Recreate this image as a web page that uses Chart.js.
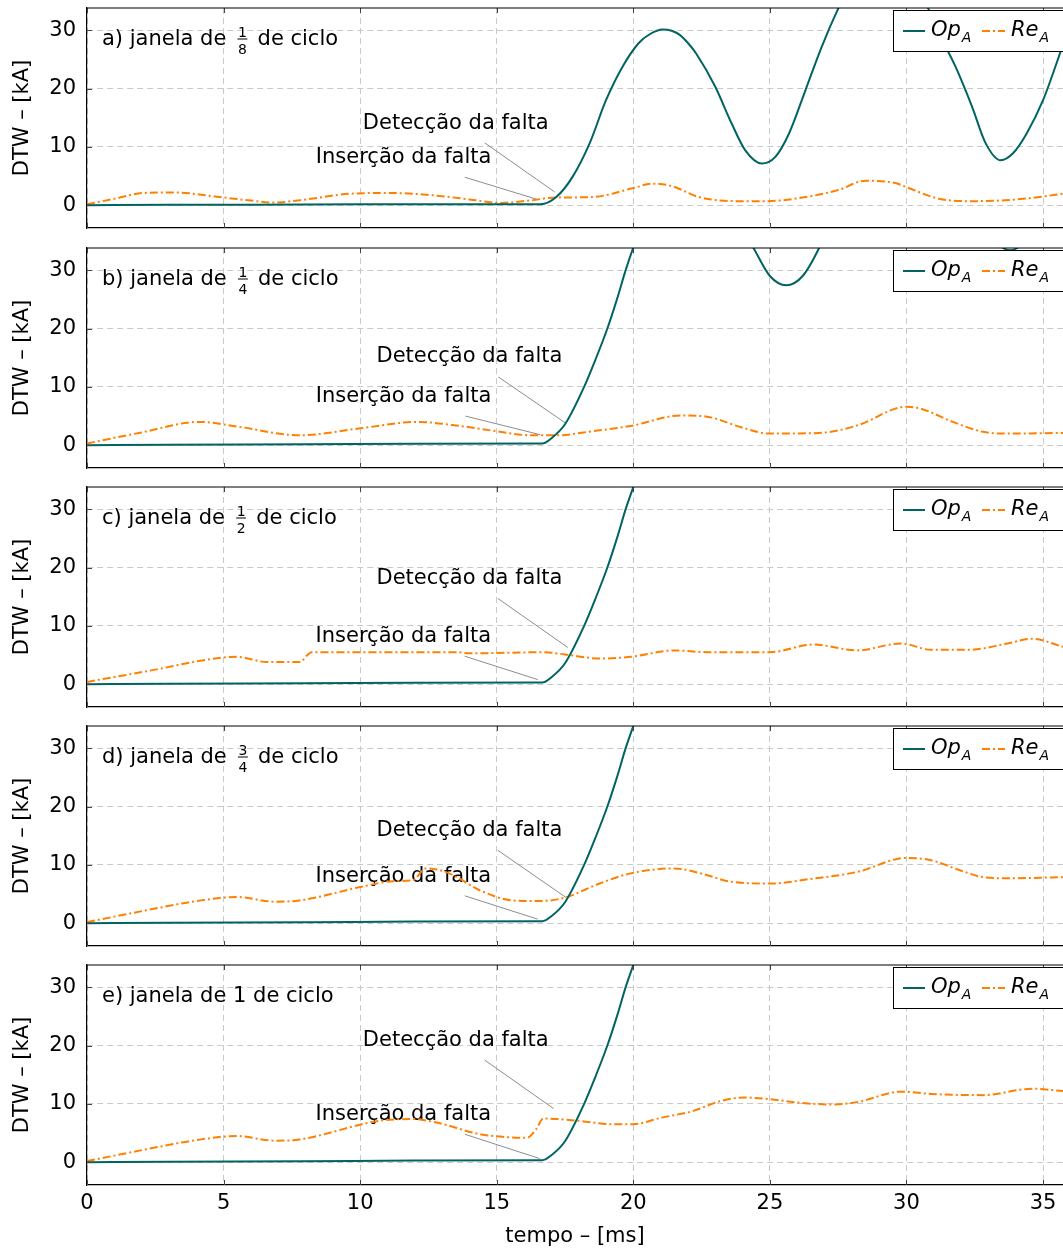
<!DOCTYPE html>
<html><head><meta charset="utf-8">
<script src="https://cdn.jsdelivr.net/npm/chart.js@4.4.0/dist/chart.umd.min.js"></script>
<style>
html,body{margin:0;padding:0;background:#fff;}
#wrap{position:relative;width:1063px;height:1249px;overflow:hidden;background:#fff;}
.pn{position:absolute;left:0;width:1063px;}
canvas{display:block;}
</style></head><body><div id="wrap"></div>
<script>
// ---- axis ticks / ranges ----
const xTicks = [0, 5, 10, 15, 20, 25, 30, 35];
const yTicks = [0, 10, 20, 30];
const xMin = 0, xMax = 35.73, yMin = -3.9, yMax = 33.8;
const xTitle = 'tempo – [ms]';
const yTitle = 'DTW – [kA]';
const seriesNames = ['Op', 'Re'];

// ---- panel a) 1/8 cycle ----
const opA_t_a = [0, 3, 6, 10, 13, 16.6, 17.18, 17.78, 18.4, 19.0, 19.6, 20.2, 20.6, 21.07, 21.4, 21.7, 22.0, 22.3, 23.0, 23.6, 24.1, 24.7, 25.2, 25.7, 26.3, 26.9, 27.5, 28.3, 29.15, 30.0, 30.8, 31.2, 31.8, 32.4, 32.9, 33.45, 33.9, 34.4, 35.0, 35.73];
const opA_v_a = [0, 0.1, 0.1, 0.15, 0.15, 0.15, 1.4, 4.9, 10.6, 18.0, 23.7, 27.8, 29.3, 30.1, 29.9, 29.2, 27.8, 26.0, 20.3, 14.0, 9.4, 7.15, 8.3, 12.3, 19.7, 27.2, 33.7, 41.0, 44.0, 41.0, 33.7, 29.4, 23.7, 16.9, 10.6, 7.7, 8.9, 12.3, 18.0, 27.5];
const reA_t_a = [0, 1, 2.06, 3.15, 4.86, 6.0, 6.8, 7.8, 9.74, 11.08, 12.67, 14.0, 15.1, 16.3, 17.05, 18.5, 19.97, 20.7, 21.4, 22.4, 23.9, 24.86, 26.3, 27.5, 28.5, 29.6, 30.0, 31.2, 32.4, 33.6, 34.86, 35.73];
const reA_v_a = [0.17, 1.1, 2.1, 2.2, 1.4, 0.8, 0.45, 0.86, 2.0, 2.1, 1.7, 1.0, 0.4, 0.86, 1.3, 1.4, 2.9, 3.7, 3.3, 1.4, 0.7, 0.7, 1.4, 2.6, 4.2, 3.8, 3.1, 1.1, 0.7, 0.86, 1.4, 2.0];

// ---- panel b) 1/4 cycle ----
const opA_t_b = [0, 3, 8, 12, 16.67, 17.0, 17.5, 18.2, 18.6, 19.05, 19.4, 19.72, 20.05, 21.0, 22.0, 23.0, 24.4, 25.0, 25.6, 26.2, 26.8, 27.8, 29.5, 31.5, 33.0, 33.8, 34.6, 35.73];
const opA_v_b = [0, 0.1, 0.15, 0.25, 0.3, 1.2, 3.6, 10.0, 14.5, 20.0, 25.0, 30.0, 34.5, 45.0, 50.0, 45.0, 33.8, 29.0, 27.4, 29.0, 33.8, 45.0, 55.0, 45.0, 36.0, 33.4, 36.0, 42.0];
const reA_t_b = [0, 2, 4.1, 5.5, 7.77, 10.0, 12.1, 13.5, 15.0, 16.25, 17.2, 18.5, 19.9, 21.75, 22.7, 24.0, 24.97, 26.8, 28.2, 30.0, 30.5, 31.7, 32.8, 33.7, 35.73];
const reA_v_b = [0.3, 2.2, 4.0, 3.2, 1.7, 2.9, 4.0, 3.4, 2.4, 1.7, 1.7, 2.4, 3.3, 5.1, 4.9, 3.0, 2.0, 2.1, 3.4, 6.6, 6.3, 4.0, 2.3, 2.0, 2.1];

// ---- panel c) 1/2 cycle ----
const opA_t_c = [0, 3, 8, 12, 16.67, 17.0, 17.5, 18.2, 18.6, 19.05, 19.4, 19.72, 20.05, 20.5, 22.0, 25.0, 30.0, 35.73];
const opA_v_c = [0, 0.1, 0.15, 0.25, 0.3, 1.2, 3.6, 10.0, 14.5, 20.0, 25.0, 30.0, 34.5, 41.0, 58.0, 78.0, 98.0, 115.0];
const reA_t_c = [0, 2.72, 4.0, 5.47, 6.6, 7.77, 8.23, 10.0, 12.0, 13.5, 14.0, 15.5, 16.7, 17.5, 18.8, 19.9, 21.5, 22.7, 25.0, 26.6, 28.2, 29.8, 30.9, 32.3, 33.7, 34.6, 35.73];
const reA_v_c = [0.4, 2.7, 3.9, 4.7, 3.8, 3.8, 5.5, 5.5, 5.5, 5.5, 5.3, 5.4, 5.5, 5.1, 4.4, 4.7, 5.8, 5.5, 5.5, 6.8, 5.8, 7.0, 5.9, 5.9, 7.0, 7.8, 6.4];

// ---- panel d) 3/4 cycle ----
const opA_t_d = [0, 3, 8, 12, 16.67, 17.0, 17.5, 18.2, 18.6, 19.05, 19.4, 19.72, 20.05, 20.5, 22.0, 25.0, 30.0, 35.73];
const opA_v_d = [0, 0.1, 0.15, 0.3, 0.35, 1.2, 3.6, 10.0, 14.5, 20.0, 25.0, 30.0, 34.5, 41.0, 58.0, 78.0, 98.0, 115.0];
const reA_t_d = [0, 2.7, 4.0, 5.47, 6.85, 7.77, 10.1, 11.2, 11.94, 12.4, 13.0, 13.5, 14.4, 15.6, 16.57, 17.5, 18.76, 19.86, 21.5, 22.5, 23.6, 25.0, 26.5, 28.2, 30.0, 30.9, 32.0, 32.8, 33.7, 35.73];
const reA_v_d = [0.2, 2.7, 3.8, 4.5, 3.7, 3.9, 6.3, 7.2, 7.4, 9.4, 9.0, 8.0, 5.6, 3.9, 3.8, 4.4, 6.8, 8.5, 9.4, 8.5, 7.1, 6.8, 7.6, 8.8, 11.2, 10.8, 9.0, 7.9, 7.7, 7.9];

// ---- panel e) 1 cycle ----
const opA_t_e = [0, 3, 8, 12, 16.67, 17.0, 17.5, 18.2, 18.6, 19.05, 19.4, 19.72, 20.05, 20.5, 22.0, 25.0, 30.0, 35.73];
const opA_v_e = [0, 0.1, 0.15, 0.3, 0.35, 1.2, 3.6, 10.0, 14.5, 20.0, 25.0, 30.0, 34.5, 41.0, 58.0, 78.0, 98.0, 115.0];
const reA_t_e = [0, 2.7, 4.0, 5.47, 6.85, 7.77, 10.7, 11.94, 12.8, 14.4, 16.1, 16.45, 16.7, 18.0, 19.25, 19.98, 21.0, 22.2, 23.2, 24.05, 25.0, 26.3, 27.3, 28.2, 29.8, 30.9, 32.8, 34.6, 35.73];
const reA_v_e = [0.2, 2.7, 3.8, 4.5, 3.7, 3.9, 7.1, 7.4, 6.8, 4.8, 4.2, 5.7, 7.5, 7.1, 6.5, 6.5, 7.6, 8.8, 10.5, 11.1, 10.8, 10.1, 9.9, 10.3, 12.1, 11.7, 11.5, 12.6, 12.2];

// ---- panel captions ----
const captionPre  = ['a) janela de ', 'b) janela de ', 'c) janela de ', 'd) janela de ', 'e) janela de 1 de ciclo'];
const captionNum  = ['1', '1', '1', '3', null];
const captionDen  = ['8', '4', '2', '4', null];
const captionPost = [' de ciclo', ' de ciclo', ' de ciclo', ' de ciclo', null];

// ---- annotations (data coordinates: text centre, leader line from -> to) ----
const annTexts = ['Detecção da falta', 'Inserção da falta'];
const annDet = [[13.5, 14.24, 14.56, 10.69, 17.12, 2.28], [14.0, 15.4, 15.06, 11.7, 17.52, 3.8], [14.0, 18.2, 15.04, 14.7, 17.6, 6.3], [14.0, 16.1, 15.04, 12.5, 17.54, 4.4], [13.5, 21.1, 14.56, 17.5, 17.08, 9.2]];
const annIns = [[11.59, 8.4, 13.83, 4.8, 16.5, 0.98], [11.59, 8.6, 13.85, 5.0, 16.6, 1.8], [11.58, 8.4, 13.83, 4.8, 16.5, 0.8], [11.58, 8.2, 13.83, 4.7, 16.5, 0.7], [11.58, 8.35, 13.83, 4.8, 16.57, 0.63]];

// ---- styles / layout ----
const TEAL = '#006462', ORANGE = '#ff8000', GRID = '#c9c9c9';
const FONT = '"DejaVu Sans", sans-serif';
const ORANGE_DASH = [8, 3, 2, 3];
const plotTops = [8, 248, 487, 726, 965], plotH = 220, padTop = 14, padBot = 14;

const opT = [opA_t_a, opA_t_b, opA_t_c, opA_t_d, opA_t_e];
const opV = [opA_v_a, opA_v_b, opA_v_c, opA_v_d, opA_v_e];
const reT = [reA_t_a, reA_t_b, reA_t_c, reA_t_d, reA_t_e];
const reV = [reA_v_a, reA_v_b, reA_v_c, reA_v_d, reA_v_e];

function pts(t, v) { return t.map((x, i) => ({ x: x, y: v[i] })); }

const decor = {
  id: 'decor',
  beforeDatasetsDraw(chart, args, o) {
    const ctx = chart.ctx, xs = chart.scales.x, ys = chart.scales.y, a = chart.chartArea;
    const i = o.idx;
    ctx.save();
    [[annDet[i], annTexts[0]], [annIns[i], annTexts[1]]].forEach(([d, txt]) => {
      ctx.strokeStyle = '#8c8c8c'; ctx.lineWidth = 1; ctx.setLineDash([]);
      ctx.beginPath();
      ctx.moveTo(xs.getPixelForValue(d[2]), ys.getPixelForValue(d[3]));
      ctx.lineTo(xs.getPixelForValue(d[4]), ys.getPixelForValue(d[5]));
      ctx.stroke();
      ctx.font = '21px ' + FONT; ctx.fillStyle = '#000';
      ctx.textAlign = 'center'; ctx.textBaseline = 'middle';
      ctx.fillText(txt, xs.getPixelForValue(d[0]), ys.getPixelForValue(d[1]) + 1);
    });
    ctx.textAlign = 'left'; ctx.textBaseline = 'alphabetic'; ctx.fillStyle = '#000';
    ctx.font = '21px ' + FONT;
    let x = a.left + 15; const base = a.top + 37;
    ctx.fillText(captionPre[i], x, base); x += ctx.measureText(captionPre[i]).width;
    if (captionNum[i]) {
      ctx.font = '14px ' + FONT;
      const w = Math.max(ctx.measureText(captionNum[i]).width, ctx.measureText(captionDen[i]).width);
      const fx = x + 5;
      ctx.textAlign = 'center';
      ctx.fillText(captionNum[i], fx + w / 2, base - 8.5);
      ctx.fillText(captionDen[i], fx + w / 2, base + 9);
      ctx.fillRect(fx - 0.5, base - 6.5, w + 1, 1);
      x = fx + w + 4;
      ctx.textAlign = 'left'; ctx.font = '21px ' + FONT;
      ctx.fillText(captionPost[i], x, base);
    }
    ctx.restore();
  },
  afterDatasetsDraw(chart, args, o) {
    const ctx = chart.ctx, a = chart.chartArea;
    ctx.save();
    ctx.strokeStyle = '#444'; ctx.lineWidth = 1;
    const xs = chart.scales.x, ys = chart.scales.y;
    ctx.beginPath();
    xTicks.forEach(v => { const px = Math.round(xs.getPixelForValue(v)) + 0.5; ctx.moveTo(px, a.bottom); ctx.lineTo(px, a.bottom - 5); ctx.moveTo(px, a.top); ctx.lineTo(px, a.top + 5); });
    yTicks.forEach(v => { const py = Math.round(ys.getPixelForValue(v)) + 0.5; ctx.moveTo(a.left, py); ctx.lineTo(a.left + 5, py); });
    ctx.stroke();
    ctx.strokeStyle = '#000'; ctx.lineWidth = 1.2;
    ctx.beginPath(); ctx.moveTo(a.left, a.top); ctx.lineTo(a.right + 5, a.top); ctx.stroke();
    const lx = 893.5, ly = a.top + 2.5, lh = 41;
    ctx.fillStyle = '#fff'; ctx.fillRect(lx, ly, 200, lh);
    ctx.strokeStyle = '#000'; ctx.lineWidth = 1;
    ctx.strokeRect(lx, ly, 200, lh);
    const cy = a.top + 23;
    ctx.lineWidth = 2; ctx.strokeStyle = TEAL; ctx.setLineDash([]);
    ctx.beginPath(); ctx.moveTo(903, cy); ctx.lineTo(925, cy); ctx.stroke();
    ctx.strokeStyle = ORANGE; ctx.setLineDash(ORANGE_DASH);
    ctx.beginPath(); ctx.moveTo(982, cy); ctx.lineTo(1005, cy); ctx.stroke();
    ctx.setLineDash([]);
    ctx.fillStyle = '#000'; ctx.textAlign = 'left'; ctx.textBaseline = 'alphabetic';
    [[931, seriesNames[0]], [1011, seriesNames[1]]].forEach(([tx, s]) => {
      ctx.font = 'italic 21px ' + FONT;
      ctx.fillText(s, tx, a.top + 28);
      const w = ctx.measureText(s).width;
      ctx.font = 'italic 14px ' + FONT;
      ctx.fillText('A', tx + w + 1, a.top + 34);
    });
    ctx.restore();
  }
};

Chart.defaults.font.family = FONT;
Chart.defaults.font.size = 21;
Chart.defaults.color = '#000';

const wrap = document.getElementById('wrap');
for (let i = 0; i < 5; i++) {
  const last = i === 4;
  const top = plotTops[i] - padTop;
  const h = last ? 1249 - top : padTop + plotH + padBot;
  const div = document.createElement('div');
  div.className = 'pn'; div.style.top = top + 'px'; div.style.height = h + 'px';
  const cv = document.createElement('canvas');
  cv.width = 1063; cv.height = h; cv.style.width = '1063px'; cv.style.height = h + 'px';
  div.appendChild(cv); wrap.appendChild(div);
  new Chart(cv, {
    type: 'line',
    data: {
      datasets: [
        { label: 'Op_A', data: pts(opT[i], opV[i]), borderColor: TEAL, borderWidth: 2, pointRadius: 0, cubicInterpolationMode: 'monotone', fill: false, clip: 0 },
        { label: 'Re_A', data: pts(reT[i], reV[i]), borderColor: ORANGE, borderWidth: 2, borderDash: ORANGE_DASH, pointRadius: 0, cubicInterpolationMode: 'monotone', fill: false, clip: 0 }
      ]
    },
    options: {
      responsive: false, animation: false, devicePixelRatio: 1,
      layout: { padding: { top: padTop, bottom: last ? 0 : padBot, left: 0, right: 0 } },
      plugins: { legend: { display: false }, tooltip: { enabled: false }, decor: { idx: i } },
      scales: {
        x: {
          type: 'linear', min: xMin, max: xMax,
          afterBuildTicks: s => { s.ticks = xTicks.map(v => ({ value: v })); },
          afterFit: s => { if (last) s.height = 64; s.paddingLeft = 0; s.paddingRight = 0; },
          ticks: { display: last, padding: 6, maxRotation: 0, autoSkip: false, font: { size: 21 } },
          grid: { color: GRID, lineWidth: 1, drawTicks: false },
          border: { display: true, color: '#000', width: 1.2, dash: [6, 4] },
          title: { display: last, text: xTitle, font: { size: 21 }, padding: { top: 0, bottom: 0 } }
        },
        y: {
          type: 'linear', min: yMin, max: yMax,
          afterBuildTicks: s => { s.ticks = yTicks.map(v => ({ value: v })); },
          afterFit: s => { s.width = 87; s.paddingTop = 0; s.paddingBottom = 0; },
          ticks: { padding: 11, font: { size: 21 } },
          grid: { color: GRID, lineWidth: 1, drawTicks: false },
          border: { display: true, color: '#000', width: 1.2, dash: [6, 4] },
          title: { display: true, text: yTitle, font: { size: 21 }, padding: { top: 10, bottom: 0 } }
        }
      }
    },
    plugins: [decor]
  });
}
</script></body></html>
